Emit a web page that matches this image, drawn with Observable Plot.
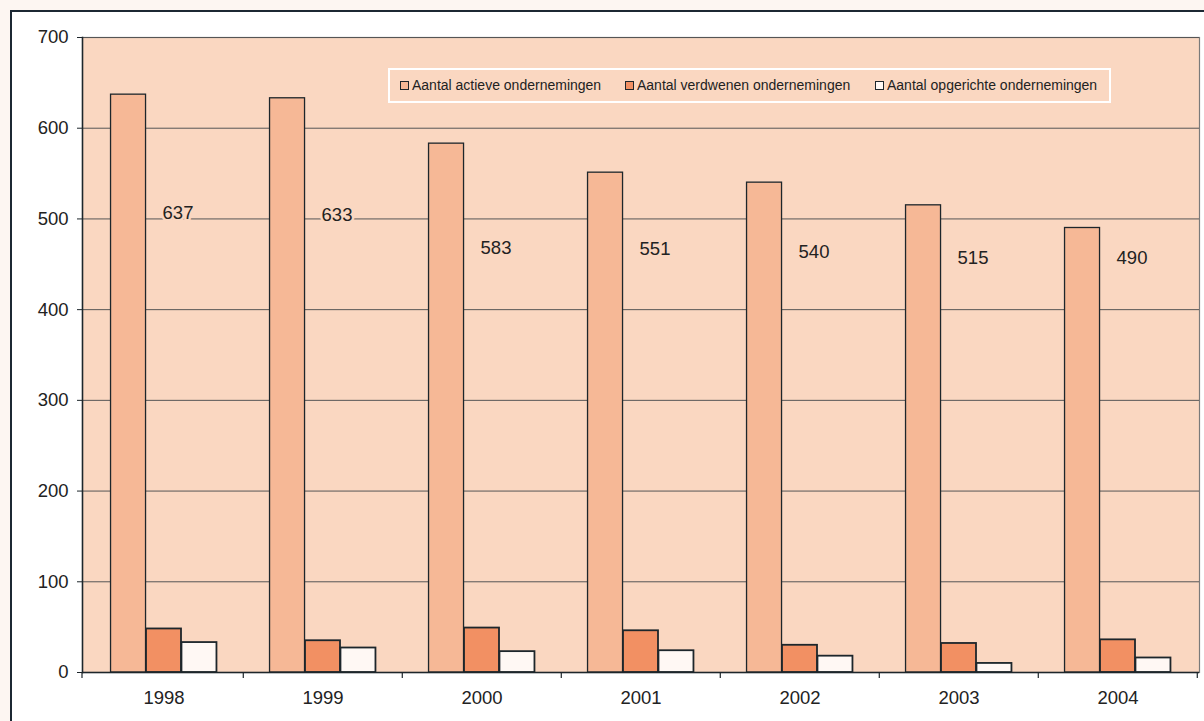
<!DOCTYPE html>
<html>
<head>
<meta charset="utf-8">
<script src="https://cdn.jsdelivr.net/npm/d3@7"></script>
<script src="https://cdn.jsdelivr.net/npm/@observablehq/plot@0.6"></script>
<style>
  html, body { margin: 0; padding: 0; background: #fdf6f2; }
  #page { position: relative; width: 1204px; height: 721px; overflow: hidden; font-family: "Liberation Sans", Arial, sans-serif; }
  #box { position: absolute; left: 10px; top: 10px; width: 1300px; height: 800px; background: #ffffff; border: 2px solid #1c2833; }
  #chart { position: absolute; left: 0; top: 0; }
  #legend { position: absolute; left: 388px; top: 68px; width: 719px; height: 31px; border: 2px solid #ffffff; background: #fad7c1;
            font-size: 14px; color: #222; }
  .item { position: absolute; display: flex; align-items: center; top: 7px; }
  .sw { width: 7px; height: 7px; border: 1.5px solid #1d262b; margin-right: 3px; }
</style>
</head>
<body>
<div id="page">
  <div id="box"></div>
  <div id="chart"></div>
  <div id="legend"></div>
</div>
<script>
const years = ["1998", "1999", "2000", "2001", "2002", "2003", "2004"];
const seriesNames = ["Aantal actieve ondernemingen", "Aantal verdwenen ondernemingen", "Aantal opgerichte ondernemingen"];
const actieve = [637, 633, 583, 551, 540, 515, 490];
const verdwenen = [48, 35, 49, 46, 30, 32, 36];
const opgericht = [33, 27, 23, 24, 18, 10, 16];
// value-axis height at which each printed label sits
const labelAt = [507, 504, 468, 467, 464, 457, 457];
const yTicks = [0, 100, 200, 300, 400, 500, 600, 700];
const colors = ["#f6b896", "#f29063", "#fff8f4"];

const W = 1204, H = 721;
const margin = {top: 37, right: 5, bottom: 49, left: 82};
const step = (W - margin.left - margin.right) / years.length;
const barW = step * 2 / 9;

const bg = "#fad7c1";
const dark = "#1d262b";
const fs = 18.5;

const rows = (vals) => years.map((y, i) => ({year: y, value: vals[i]}));
const labels = years.map((y, i) => ({year: y, value: actieve[i], at: labelAt[i]}));

const chart = Plot.plot({
  width: W, height: H,
  marginTop: margin.top, marginRight: margin.right, marginBottom: margin.bottom, marginLeft: margin.left,
  style: {background: "transparent", fontFamily: "Liberation Sans, Arial, sans-serif", fontSize: fs + "px", color: "#222"},
  x: {domain: years, paddingInner: 7/9, paddingOuter: 7/18, axis: null},
  y: {domain: [0, 700], axis: null},
  marks: [
    Plot.frame({fill: bg, stroke: "#7a7a7a", strokeWidth: 1.2}),
    Plot.gridY(yTicks.filter(d => d > 0), {stroke: "#555", strokeOpacity: 1, strokeWidth: 1}),
    Plot.barY(rows(actieve), {x: "year", y: "value", fill: colors[0], stroke: dark, strokeWidth: 1.3, dx: -barW}),
    Plot.barY(rows(verdwenen), {x: "year", y: "value", fill: colors[1], stroke: dark, strokeWidth: 1.8}),
    Plot.barY(rows(opgericht), {x: "year", y: "value", fill: colors[2], stroke: dark, strokeWidth: 1.8, dx: barW}),
    Plot.text(labels, {x: "year", y: "at", text: d => String(d.value), dx: 14, fontSize: fs, fill: "#222",
      stroke: bg, strokeWidth: 5, paintOrder: "stroke"}),
    Plot.ruleY([0], {stroke: dark, strokeWidth: 1.5}),
    Plot.frame({anchor: "left", stroke: dark, strokeWidth: 1.5}),
    Plot.axisY({ticks: yTicks, tickSize: 5, tickPadding: 9, fontSize: fs, stroke: dark, fill: "#222", label: null}),
    Plot.axisX({tickSize: 0, tickPadding: 18, fontSize: fs, fill: "#222", label: null})
  ]
});
document.getElementById("chart").appendChild(chart);

// boundary tick marks on the category axis (between groups and at both ends)
const svg = d3.select(chart);
const xs = chart.scale("x");
const y0 = H - margin.bottom;
const bounds = [margin.left].concat(years.map(y => xs.apply(y) + xs.bandwidth / 2 + step / 2));
svg.append("g").selectAll("line").data(bounds).join("line")
  .attr("x1", d => d).attr("x2", d => d).attr("y1", y0).attr("y2", y0 + 6)
  .attr("stroke", dark).attr("stroke-width", 1.2);

// legend
const leg = document.getElementById("legend");
const offsets = [10, 235, 485];
seriesNames.forEach((name, i) => {
  const it = document.createElement("div");
  it.className = "item";
  it.style.left = offsets[i] + "px";
  const sw = document.createElement("div");
  sw.className = "sw";
  sw.style.background = colors[i];
  const t = document.createElement("span");
  t.textContent = name;
  it.appendChild(sw); it.appendChild(t);
  leg.appendChild(it);
});
</script>
</body>
</html>
